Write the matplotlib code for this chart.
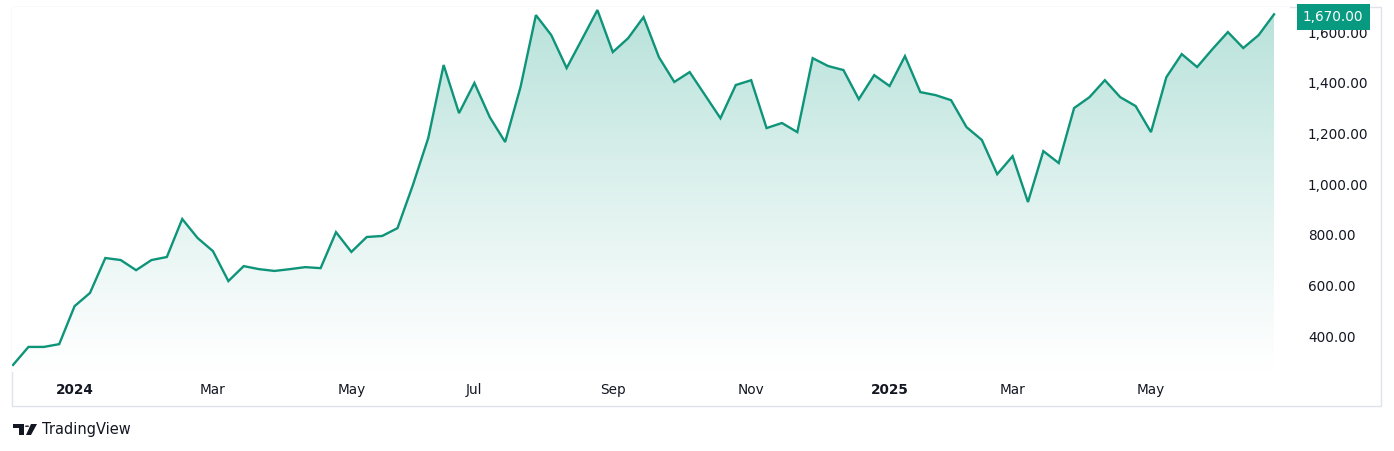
import numpy as np
import pandas as pd
import matplotlib
matplotlib.use("Agg")
import matplotlib.pyplot as plt
import matplotlib.dates as mdates
import matplotlib.patches as mpatches
from matplotlib.colors import LinearSegmentedColormap
from matplotlib.ticker import FixedLocator, FuncFormatter

# weekly closes (Monday bars)
start_date = "2023-12-04"
values = [
    286, 357, 357, 368,
    518, 570, 708, 700, 660, 700, 712, 862, 787, 735, 617, 676, 664,
    657, 664, 672, 668, 810, 732, 791, 795, 826, 996, 1182, 1470, 1280,
    1399, 1264, 1166, 1383, 1667, 1588, 1458, 1572, 1687, 1521, 1576, 1659,
    1501, 1403, 1442, 1351, 1260, 1391, 1410, 1221, 1241, 1205, 1497, 1466,
    1450, 1335, 1430,
    1387, 1505, 1363, 1351, 1331, 1225, 1174, 1039, 1110, 929, 1130, 1083,
    1300, 1343, 1410, 1343, 1308, 1205, 1422, 1513, 1462, 1533, 1600, 1537,
    1588, 1670,
]
last_label = "1,670.00"

tick_dates = ["2024-01-01", "2024-03-04", "2024-05-06", "2024-07-01", "2024-09-02",
              "2024-11-04", "2025-01-06", "2025-03-03", "2025-05-05"]
tick_labels = ["2024", "Mar", "May", "Jul", "Sep", "Nov", "2025", "Mar", "May"]
year_labels = {"2024", "2025"}
price_ticks = [400, 600, 800, 1000, 1200, 1400, 1600]

LINE = "#0e9479"
TEXT = "#131722"

dates = pd.date_range(start_date, periods=len(values), freq="W-MON")
x = mdates.date2num(dates)
y = np.array(values, dtype=float)

W, H = 1394, 451
fig = plt.figure(figsize=(W / 100, H / 100), dpi=100)
fig.patch.set_facecolor("white")

# pane: x 12..1290 px, y 7..372 px
ax = fig.add_axes([12 / W, 1 - 372 / H, (1290 - 12) / W, (372 - 7) / H])
ax.set_facecolor("white")

week = 7.0
ax.set_xlim(x[0] - 0.07 * week, x[-1] + 1.04 * week)
ax.set_ylim(258, 1699)

# gradient area under the line
y0, y1 = ax.get_ylim()
grad = np.linspace(1, 0, 256).reshape(-1, 1)
cmap = LinearSegmentedColormap.from_list(
    "tvfill", [(1, 1, 1, 1), (0.72, 0.885, 0.855, 1)])
im = ax.imshow(grad ** 1.1, cmap=cmap, aspect="auto",
               extent=[x[0], x[-1], y0, y1], origin="upper", zorder=1)
poly = ax.fill_between(x, y, y0, color="none", lw=0)
im.set_clip_path(poly.get_paths()[0], transform=ax.transData)

ax.plot(x, y, color=LINE, lw=1.7, solid_joinstyle="miter", zorder=3)

for s in ax.spines.values():
    s.set_visible(False)

# time axis
ax.xaxis.set_major_locator(FixedLocator(mdates.date2num(pd.to_datetime(tick_dates))))
ax.set_xticklabels(tick_labels)
ax.tick_params(axis="x", length=0, pad=8, labelsize=9.8, labelcolor=TEXT)
for t in ax.get_xticklabels():
    if t.get_text() in year_labels:
        t.set_fontweight("bold")

# price axis on the right
ax.yaxis.tick_right()
ax.yaxis.set_major_locator(FixedLocator(price_ticks))
ax.yaxis.set_major_formatter(FuncFormatter(lambda v, p: f"{v:,.2f}"))
ax.tick_params(axis="y", length=0, pad=13, labelsize=9.8, labelcolor=TEXT)
for t in ax.get_yticklabels():
    t.set_horizontalalignment("left")

# last price tag
ax.annotate(last_label, xy=(1.0, y[-1]), xycoords=ax.get_yaxis_transform(),
            xytext=(13, -2.5), textcoords="offset pixels",
            ha="left", va="center", fontsize=9.8, color="white", zorder=6,
            bbox=dict(boxstyle="square,pad=0.45", facecolor="#089981", edgecolor="none"))

# outer frame
fig.add_artist(mpatches.Rectangle((12 / W, 1 - 406 / H), (1381 - 12) / W, (406 - 7) / H,
                                  transform=fig.transFigure, fill=False,
                                  edgecolor="#e0e3eb", lw=1.0, zorder=0))

# TradingView footer
def px(xp, yp):
    return (xp / W, 1 - yp / H)

fig.add_artist(mpatches.Polygon([px(13, 424), px(24, 424), px(24, 435), px(19, 435),
                                 px(19, 428), px(13, 428)], closed=True,
                                transform=fig.transFigure, facecolor=TEXT, edgecolor="none"))
fig.add_artist(mpatches.Circle(px(27, 426.2), 2.2 / W, transform=fig.transFigure,
                               facecolor=TEXT, edgecolor="none"))
fig.add_artist(mpatches.Polygon([px(31, 424), px(37, 424), px(31, 435), px(26, 435)],
                                closed=True, transform=fig.transFigure,
                                facecolor=TEXT, edgecolor="none"))
fig.text(42 / W, 1 - 429.5 / H, "TradingView", ha="left", va="center",
         fontsize=10.5, color=TEXT)

fig.savefig("out.png", dpi=100, facecolor="white")
